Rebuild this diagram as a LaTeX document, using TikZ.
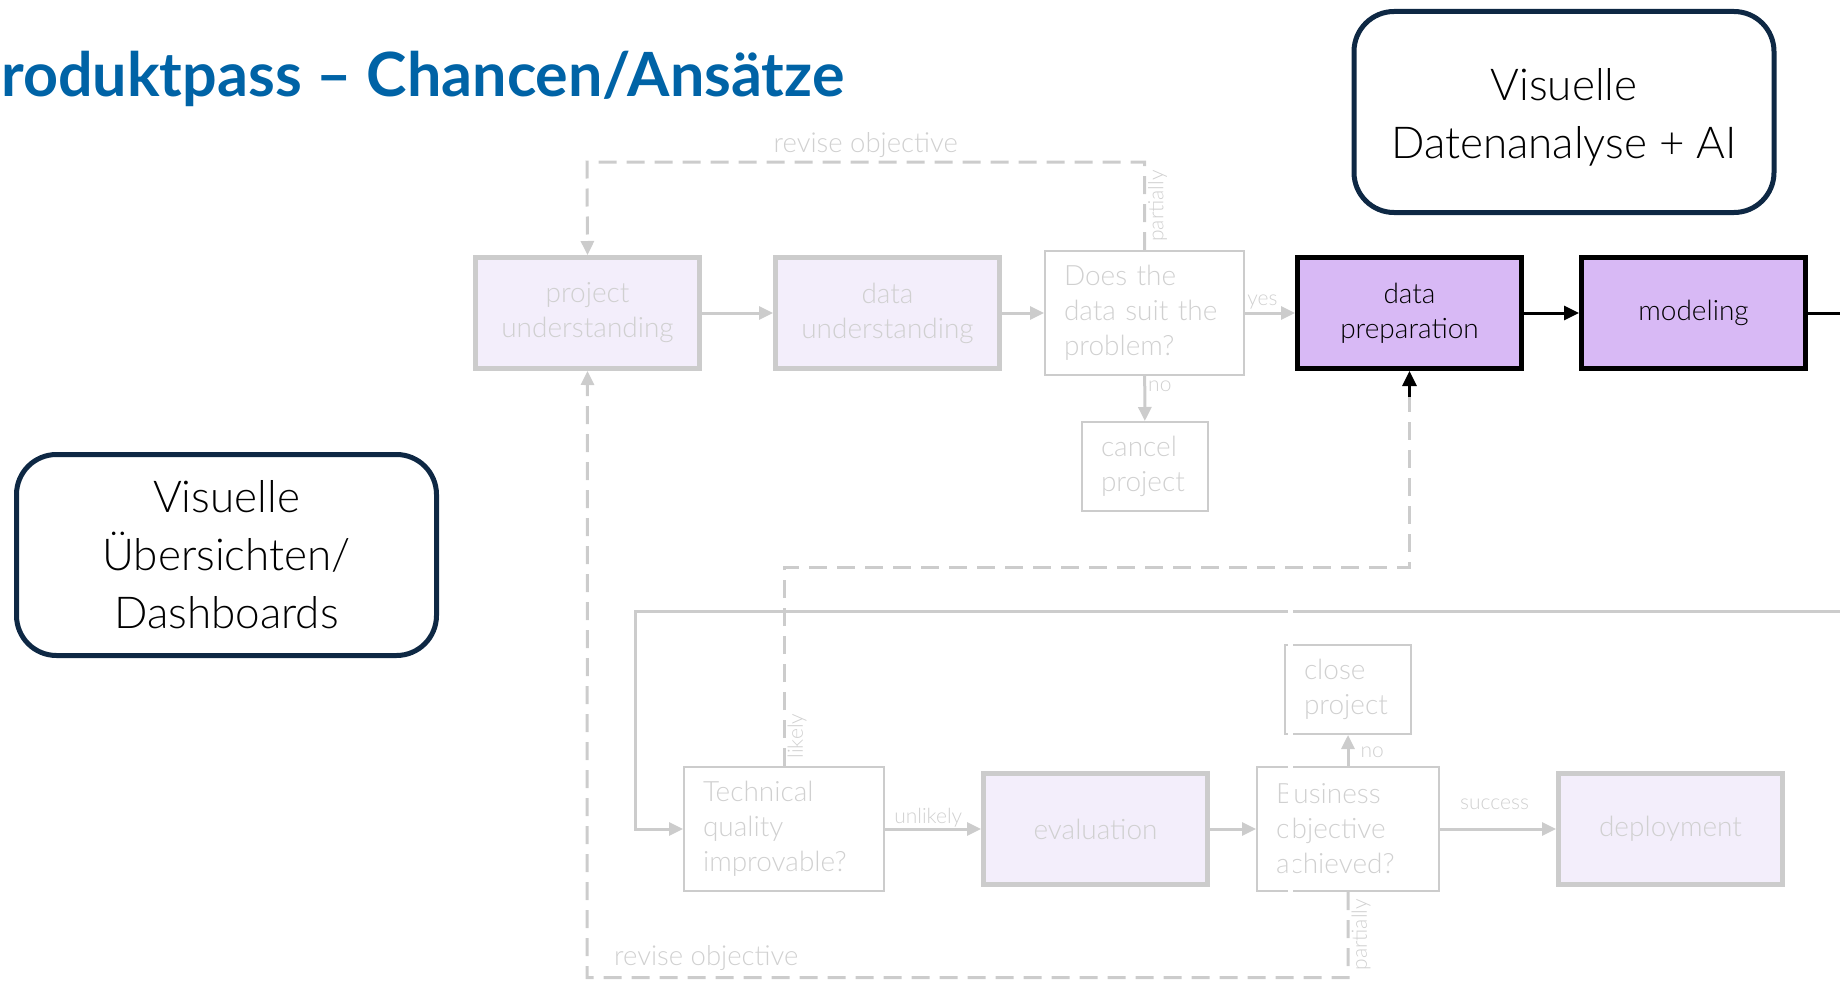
\documentclass[tikz,border=0pt]{standalone}
\usepackage{fontspec}
\usetikzlibrary{arrows.meta}
\newfontfamily\lightfont{Lato Light}
\newfontfamily\headfont{Lato Bold}
\definecolor{titleblue}{RGB}{0,99,166}
\definecolor{navy}{RGB}{14,40,68}
\definecolor{faded}{RGB}{204,204,204}
\definecolor{fadedtext}{RGB}{208,208,208}
\definecolor{lav}{RGB}{243,238,251}
\definecolor{purp}{RGB}{216,185,245}
\tikzset{
  boxtext/.style={font=\lightfont\fontsize{28}{35}\selectfont},
  phase/.style={boxtext, draw=faded, line width=5pt, fill=lav, text=fadedtext,
    minimum width=224pt, minimum height=111pt, inner sep=0pt, align=center},
  active/.style={phase, draw=black, fill=purp, text=black},
  question/.style={boxtext, draw=faded, line width=2pt, text=fadedtext,
    inner xsep=19pt, inner ysep=0pt, align=left},
  endbox/.style={question},
  themebox/.style={draw=navy, line width=5pt, rounded corners=40pt, fill=white,
    minimum width=420pt, minimum height=201pt, align=center,
    font=\lightfont\fontsize{44}{58}\selectfont},
  flow/.style={draw=faded, line width=3pt, -{Triangle[length=14pt,width=13pt]}},
  loopback/.style={draw=faded, line width=3pt, dash pattern=on 18pt off 10pt},
  mainflow/.style={draw=black, line width=3pt, -{Triangle[length=15pt,width=14pt]}},
  lbl/.style={text=fadedtext, inner sep=2pt, font=\lightfont\fontsize{21}{24}\selectfont},
  biglbl/.style={text=fadedtext, inner sep=2pt, font=\lightfont\fontsize{27.5}{30}\selectfont},
}
\begin{document}
\begin{tikzpicture}[x=1pt,y=-1pt]
\useasboundingbox (0,0) rectangle (1840,982);

% heading
\node[anchor=base west, inner sep=0pt, text=titleblue,
  font=\headfont\fontsize{61}{70}\selectfont] (title) at (1,96)
  {roduktpass – Chancen/Ansätze};

% theme boxes
\node[themebox] (vda) at (1564,112) {\rule{0pt}{42pt}Visuelle\\Datenanalyse + AI};
\node[themebox] (vue) at (226.5,555) {Visuelle\\Übersichten/\\Dashboards};

% process steps, upper row
\node[phase] (pu) at (587.5,313) {project\\understanding};
\node[phase] (du) at (887.5,313) {data\\understanding};
\node[question, text width=161pt, minimum height=124pt] (q1) at (1144.5,313)
  {Does the\\data suit the\\problem?};
\node[endbox, text width=88pt, minimum height=89pt] (cp) at (1145,466.5)
  {cancel\\project};
\node[active] (dp) at (1409.5,313) {data\\preparation};
\node[active] (mo) at (1693.5,313) {modeling};
\coordinate (moout) at (1840,313);

% process steps, lower row
\node[question, text width=162pt, minimum height=124pt] (q2) at (784,829)
  {Technical\\quality\\improvable?};
\node[phase] (ev) at (1095.5,829) {evaluation};
\node[question, text width=144pt, minimum height=124pt] (q3) at (1348,829)
  {Business\\objective\\achieved?};
\node[endbox, text width=88pt, minimum height=89pt] (cl) at (1348,689.5)
  {close\\project};
\node[phase] (de) at (1670.5,829) {deployment};

% corner points of the return paths
\coordinate (inR) at (1840,611);
\coordinate (inC) at (635,611);
\coordinate (topY) at (587,162);
\coordinate (topQ) at (1144.5,162);
\coordinate (midL) at (784,567);
\coordinate (midR) at (1409.5,567);
\coordinate (midT) at (1409.5,397);
\coordinate (botQ) at (1348,977.5);
\coordinate (botL) at (587,977.5);

% upper flow
\draw[flow] (pu) -- (du);
\draw[flow] (du) -- (q1);
\draw[flow] (q1) -- node[lbl, above, pos=0.35] {yes} (dp);
\draw[flow] (q1) -- node[lbl, right, pos=0.22] {no} (cp);
\draw[mainflow] (dp) -- (mo);
\draw[draw=black, line width=3pt] (mo) -- (moout);
\draw[loopback, -{Triangle[length=14pt,width=13pt]}] (q1.north)
  -- node[lbl, rotate=90, anchor=north, pos=0.5] {partially} (topQ)
  -- node[biglbl, above, pos=0.5, yshift=1pt] {revise objective} (topY)
  -- (pu.north);

% lower flow
\draw[flow] (inR) -- (inC) |- (q2.west);
\draw[flow] (q2) -- node[lbl, above, pos=0.45, yshift=-2pt] {unlikely} (ev);
\draw[flow] (ev) -- (q3);
\draw[flow] (q3) -- node[lbl, above, pos=0.47, yshift=16pt] {success} (de);
\draw[flow] (q3.north) -- node[lbl, right, pos=0.45, xshift=9pt] {no} (cl.south);
\draw[loopback] (q2.north) -- node[lbl, rotate=90, anchor=north, pos=0.15] {likely}
  (midL) -- (midR) -- (midT);
\draw[mainflow] (midT) -- (dp.south);
\draw[loopback, -{Triangle[length=14pt,width=13pt]}] (q3.south)
  -- node[lbl, rotate=90, anchor=north, pos=0.5] {partially} (botQ)
  -- (botL) -- (pu.south);
\node[biglbl, anchor=south west] (revb) at (612,973) {revise objective};

% light gap running down through the lower row
\fill[white] (1288,600) rectangle (1293,896);
\end{tikzpicture}
\end{document}
